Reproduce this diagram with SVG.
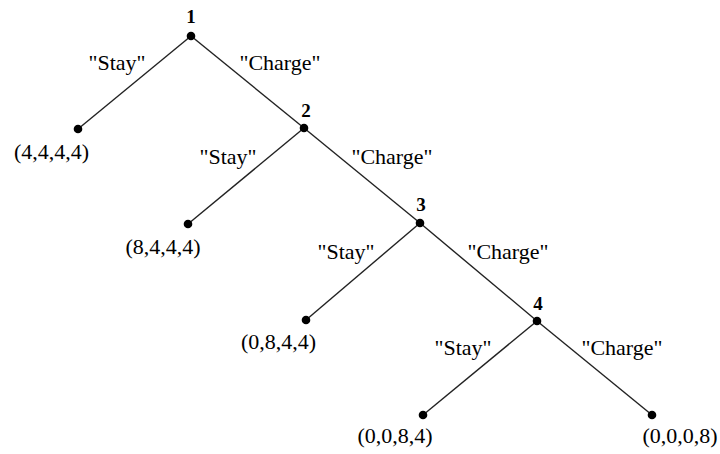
<svg xmlns="http://www.w3.org/2000/svg" width="720" height="454" viewBox="0 0 720 454">
<style>
.e{stroke:#222;stroke-width:1.4;fill:none}
.d{fill:#000}
.t{font-family:"Liberation Serif","Times New Roman",serif;font-size:22px;fill:#000;text-anchor:middle}
.n{font-family:"Liberation Serif","Times New Roman",serif;font-size:19px;font-weight:bold;fill:#000;text-anchor:middle}
</style>
<rect width="720" height="454" fill="#fff"/>
<g id="connectors">
<line class="e" x1="191" y1="36" x2="78" y2="129"/>
<line class="e" x1="191" y1="36" x2="304" y2="128"/>
<line class="e" x1="304" y1="128" x2="188" y2="224"/>
<line class="e" x1="304" y1="128" x2="420" y2="223"/>
<line class="e" x1="420" y1="223" x2="306" y2="320"/>
<line class="e" x1="420" y1="223" x2="537" y2="321"/>
<line class="e" x1="537" y1="321" x2="423" y2="415"/>
<line class="e" x1="537" y1="321" x2="652" y2="415"/>
<text class="t" x="117" y="70">"Stay"</text>
<text class="t" x="280" y="70">"Charge"</text>
<text class="t" x="228" y="164">"Stay"</text>
<text class="t" x="392" y="164">"Charge"</text>
<text class="t" x="346" y="259">"Stay"</text>
<text class="t" x="508" y="259">"Charge"</text>
<text class="t" x="463" y="355">"Stay"</text>
<text class="t" x="622" y="355">"Charge"</text>
</g>
<g id="node1"><circle class="d" cx="191" cy="36" r="4.3"/><text class="n" x="191" y="23">1</text></g>
<g id="node2"><circle class="d" cx="304" cy="128" r="4.3"/><text class="n" x="306" y="117">2</text></g>
<g id="node3"><circle class="d" cx="420" cy="223" r="4.3"/><text class="n" x="421" y="211">3</text></g>
<g id="node4"><circle class="d" cx="537" cy="321" r="4.3"/><text class="n" x="538" y="310">4</text></g>
<g id="leaf1"><circle class="d" cx="78" cy="129" r="4.3"/><text class="t" x="51.5" y="159">(4,4,4,4)</text></g>
<g id="leaf2"><circle class="d" cx="188" cy="224" r="4.3"/><text class="t" x="163" y="254">(8,4,4,4)</text></g>
<g id="leaf3"><circle class="d" cx="306" cy="320" r="4.3"/><text class="t" x="278.5" y="349">(0,8,4,4)</text></g>
<g id="leaf4"><circle class="d" cx="423" cy="415" r="4.3"/><text class="t" x="395" y="443">(0,0,8,4)</text></g>
<g id="leaf5"><circle class="d" cx="652" cy="415" r="4.3"/><text class="t" x="680" y="443">(0,0,0,8)</text></g>
</svg>
